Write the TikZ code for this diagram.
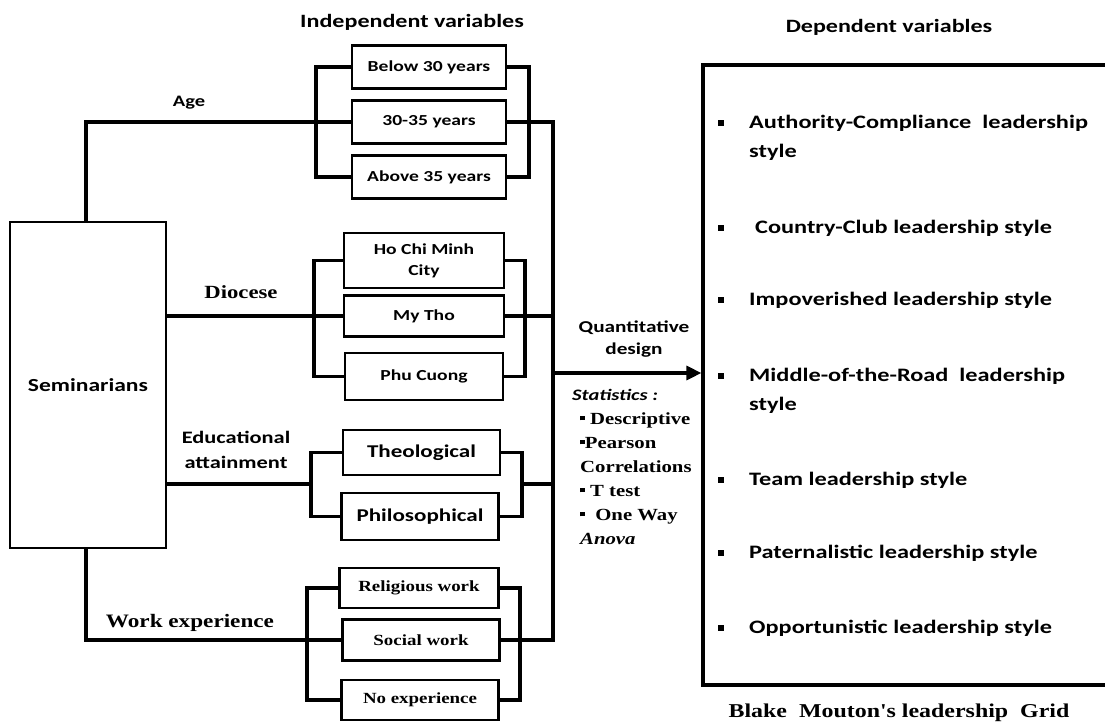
\documentclass[tikz,border=0pt]{standalone}
\usepackage{fontspec}
\usetikzlibrary{arrows.meta}
\newfontfamily\sansB{Carlito}[FakeStretch=1.28]
\newfontfamily\serifB{Liberation Serif}[FakeStretch=1.22]
\newcommand{\fsz}[2]{\fontsize{#1}{#2}\selectfont}
\newcommand{\bul}{\rule[0.22em]{0.28em}{0.28em}}
\begin{document}
\begin{tikzpicture}[x=1pt,y=-1pt,
  box/.style={draw,line width=2.4pt,inner sep=0pt,align=center,font=\sansB\bfseries\fsz{15.3}{21}},
  wbox/.style={box,font=\serifB\bfseries\fsz{15.5}{20}},
  ebox/.style={box,font=\sansB\bfseries\fsz{18}{22}},
  link/.style={line width=3.6pt,line join=miter},
  lbl/.style={inner sep=0pt,align=center,font=\sansB\bfseries\fsz{17.5}{25}},
  slbl/.style={inner sep=0pt,align=center,font=\serifB\bfseries\fsz{19}{24}},
  item/.style={inner sep=0pt,anchor=west,align=left,font=\sansB\bfseries\fsz{19}{29}},
  bulnode/.style={fill=black,inner sep=0pt,minimum size=5.5pt},
  arr/.style={line width=3.2pt,-{Triangle[length=15pt,width=14pt]}}
]
\useasboundingbox (0,0) rectangle (1105,725);
\fill[white] (0,0) rectangle (1105,725);
\clip (0,0) rectangle (1105,725);

% headers
\node[lbl,font=\sansB\bfseries\fsz{18.8}{22}] (hind) at (412,22) {Independent variables};
\node[lbl,font=\sansB\bfseries\fsz{18.8}{22}] (hdep) at (889,27) {Dependent variables};

% seminarians
\node[box,minimum width=156pt,minimum height=326pt,font=\sansB\bfseries\fsz{18.4}{22}] (sem) at (88,385) {Seminarians};

% age
\node[box,minimum width=154pt,minimum height=43pt] (a1) at (429,67) {Below 30 years};
\node[box,minimum width=154pt,minimum height=43pt] (a2) at (429,122) {30-35 years};
\node[box,minimum width=154pt,minimum height=43pt] (a3) at (429,177) {Above 35 years};
\node[lbl,font=\sansB\bfseries\fsz{16}{20}] (lage) at (189,103) {Age};

% diocese
\node[box,minimum width=160pt,minimum height=55pt] (d1) at (424,260.5) {Ho Chi Minh\\City};
\node[box,minimum width=160pt,minimum height=41pt] (d2) at (424,316) {My Tho};
\node[box,minimum width=158pt,minimum height=47pt] (d3) at (424,376.5) {Phu Cuong};
\node[slbl,font=\serifB\bfseries\fsz{18.6}{22}] (ldio) at (241,292) {Diocese};

% education
\node[ebox,minimum width=157pt,minimum height=45pt] (e1) at (421.5,452.5) {Theological};
\node[ebox,minimum width=157pt,minimum height=47pt] (e2) at (420,516.5) {Philosophical};
\node[lbl] (ledu) at (236,449.5) {Educational\\attainment};

% work
\node[wbox,minimum width=159pt,minimum height=40pt] (w1) at (419,588) {Religious work};
\node[wbox,minimum width=157pt,minimum height=41pt] (w2) at (421,640) {Social work};
\node[wbox,minimum width=157pt,minimum height=40pt] (w3) at (420,700) {No experience};
\node[slbl] (lwork) at (190,623) {Work experience};

% dependent box
\node[draw,line width=3.2pt,inner sep=0pt,minimum width=417pt,minimum height=620pt] (dep) at (911.5,375) {};

% coordinates
\coordinate (semA) at (86,222);
\coordinate (ageL) at (316,122);
\coordinate (ageR) at (529,122);
\coordinate (busTop) at (553,122);
\coordinate (semD) at (166,316);
\coordinate (dioL) at (314,316);
\coordinate (dioR) at (525,316);
\coordinate (dioBus) at (553,316);
\coordinate (semE) at (166,484);
\coordinate (eduL) at (311,484);
\coordinate (eduR) at (522,484);
\coordinate (eduBus) at (553,484);
\coordinate (semW) at (86,548);
\coordinate (workL) at (307,640);
\coordinate (workR) at (520,640);
\coordinate (busArr) at (553,373);

% age links
\draw[link] (semA) |- (a2.west);
\draw[link] (a1.west) -| (ageL) |- (a3.west);
\draw[link] (a1.east) -| (ageR) |- (a3.east);
% bus
\draw[link] (a2.east) -- (busTop) |- (w2.east);
% diocese links
\draw[link] (semD) -- (d2.west);
\draw[link] (d1.west) -| (dioL) |- (d3.west);
\draw[link] (d1.east) -| (dioR) |- (d3.east);
\draw[link] (d2.east) -- (dioBus);
% education links
\draw[link] (semE) -- (eduL);
\draw[link] (e1.west) -| (eduL) |- (e2.west);
\draw[link] (e1.east) -| (eduR) |- (e2.east);
\draw[link] (eduR) -- (eduBus);
% work links
\draw[link] (semW) |- (w2.west);
\draw[link] (w1.west) -| (workL) |- (w3.west);
\draw[link] (w1.east) -| (workR) |- (w3.east);
% arrow
\draw[arr] (busArr) -- (busArr -| dep.west);

% method text
\node[lbl,font=\sansB\bfseries\fsz{16.6}{22}] (qd) at (634,339) {Quantitative\\design};
\node[inner sep=0pt,anchor=west,align=left,font=\serifB\bfseries\fsz{17}{24}] (stats) at (580,466.5)
  {\hspace*{-8pt}{\sansB\bfseries\itshape\fsz{16}{24}Statistics :}\\
   \bul\ Descriptive\\
   \bul Pearson\\
   Correlations\\
   \bul\ T test\\
   \bul\ \ One Way\\
   {\itshape Anova}};

% dependent items
\node[bulnode] (b1) at (721,123) {};
\node[bulnode] (b2) at (721,228) {};
\node[bulnode] (b3) at (721,300) {};
\node[bulnode] (b4) at (721,376) {};
\node[bulnode] (b5) at (721,480) {};
\node[bulnode] (b6) at (721,553) {};
\node[bulnode] (b7) at (721,628) {};
\node[item] (i1) at (749,137.5) {Authority-Compliance\ \ leadership\\style};
\node[item] (i2) at (755,228) {Country-Club leadership style};
\node[item] (i3) at (749,300) {Impoverished leadership style};
\node[item] (i4) at (749,390.5) {Middle-of-the-Road\ \ leadership\\style};
\node[item] (i5) at (749,480) {Team leadership style};
\node[item] (i6) at (749,553) {Paternalistic leadership style};
\node[item] (i7) at (749,628) {Opportunistic leadership style};

% caption
\node[slbl,font=\serifB\bfseries\fsz{19.6}{24}] (cap) at (899,713) {Blake\ \ Mouton's leadership\ \ Grid};
\end{tikzpicture}
\end{document}
